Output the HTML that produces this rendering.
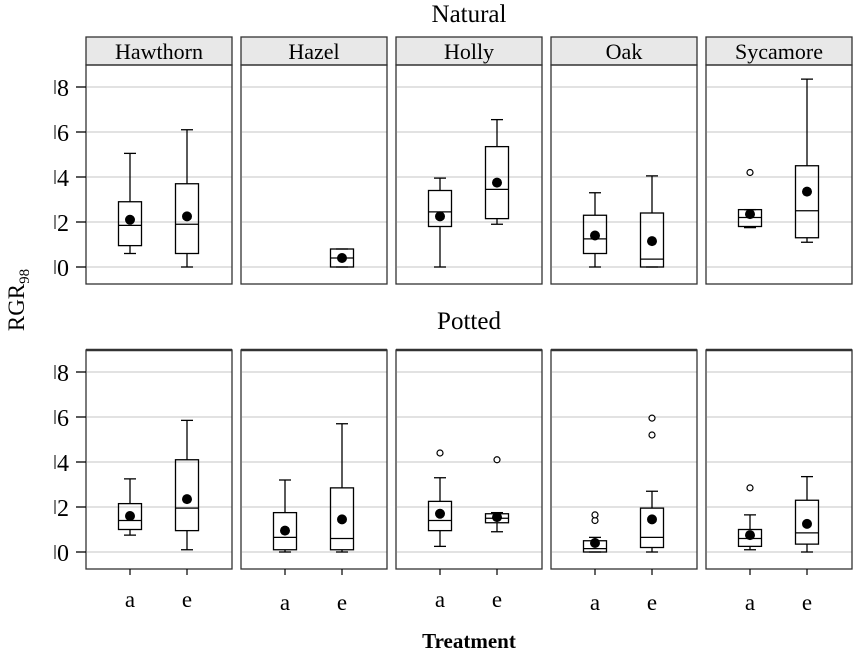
<!DOCTYPE html>
<html><head><meta charset="utf-8"><style>
html,body{margin:0;padding:0;background:#fff;}
svg{display:block;font-family:"Liberation Serif",serif;}
</style></head><body>
<svg id="s" width="855" height="651" viewBox="0 0 855 651" xmlns="http://www.w3.org/2000/svg">
<rect width="855" height="651" fill="#fff"/>
<g id="g"></g>
<text x="469" y="22" font-size="25" text-anchor="middle">Natural</text>
<text x="469" y="329" font-size="25" text-anchor="middle">Potted</text>
<text x="469" y="648" font-size="21" font-weight="bold" text-anchor="middle">Treatment</text>
<text transform="translate(24,300) rotate(-90)" font-size="23" text-anchor="middle">RGR<tspan font-size="15" dy="5">98</tspan></text>
<g font-size="22" text-anchor="middle">
<text x="159" y="59">Hawthorn</text><text x="314" y="59">Hazel</text><text x="469" y="59">Holly</text><text x="624" y="59">Oak</text><text x="779" y="59">Sycamore</text>
</g>
<g font-size="23" text-anchor="middle">
<text x="130" y="607">a</text><text x="187" y="607">e</text>
<text x="285" y="610">a</text><text x="342" y="610">e</text>
<text x="440" y="607">a</text><text x="497" y="607">e</text>
<text x="595" y="610">a</text><text x="652" y="610">e</text>
<text x="750" y="610">a</text><text x="807" y="610">e</text>
</g>
<g font-size="24" text-anchor="end">
<text x="69" y="96">8</text><text x="69" y="141">6</text><text x="69" y="186">4</text><text x="69" y="231">2</text><text x="69" y="276">0</text>
<text x="69" y="381">8</text><text x="69" y="426">6</text><text x="69" y="471">4</text><text x="69" y="516">2</text><text x="69" y="561">0</text>
</g>
</svg>
<script>
var g=document.getElementById('g'),h='';
function L(x1,y1,x2,y2,c,w){h+='<line x1="'+x1+'" y1="'+y1+'" x2="'+x2+'" y2="'+y2+'" stroke="'+c+'" stroke-width="'+w+'"/>';}
var px=[86,241,396,551,706];
function axis(base){for(var u=0;u<=8;u+=2){var y=base-22.5*u;L(76,y,86,y,'#000',1.3);L(55,y-7,55,y+7,'#000',1);}}
function panels(top,bottom,base,strip){
 px.forEach(function(x){
  for(var u=0;u<=8;u+=2){var y=base-22.5*u;L(x+1,y,x+146,y,'#d0d0d0',1.3);}
  if(strip){h+='<rect x="'+x+'" y="37" width="146" height="28" fill="#e8e8e8" stroke="#333" stroke-width="1.3"/>';}
  h+='<rect x="'+x+'" y="'+top+'" width="146" height="'+(bottom-top)+'" fill="none" stroke="#333" stroke-width="1.3"/>';
  if(!strip)L(x,top,x+146,top,'#333',2.5);
 });
}
panels(65,284,267,true);panels(350,569,552,false);
px.forEach(function(x){L(x+44,569,x+44,575,'#000',1.2);L(x+101,569,x+101,575,'#000',1.2);});
function bp(p,k,base,d){
 var cx=px[p]+(k?101:44),Y=function(u){return base-22.5*u;};
 L(cx,Y(d[0]),cx,Y(d[2]),'#000',1.3);L(cx,Y(d[3]),cx,Y(d[1]),'#000',1.3);
 L(cx-6,Y(d[0]),cx+6,Y(d[0]),'#000',1.3);L(cx-6,Y(d[1]),cx+6,Y(d[1]),'#000',1.3);
 h+='<rect x="'+(cx-11.5)+'" y="'+Y(d[3])+'" width="23" height="'+(Y(d[2])-Y(d[3]))+'" fill="none" stroke="#000" stroke-width="1.3"/>';
 L(cx-11.5,Y(d[4]),cx+11.5,Y(d[4]),'#000',1.3);
 h+='<circle cx="'+cx+'" cy="'+Y(d[5])+'" r="5" fill="#000"/>';
 (d[6]||[]).forEach(function(o){h+='<circle cx="'+cx+'" cy="'+Y(o)+'" r="3" fill="#fff" stroke="#000" stroke-width="1.2"/>';});
}
var T=267,B=552;
bp(0,0,T,[0.6,5.05,0.95,2.9,1.85,2.1]);bp(0,1,T,[0,6.1,0.6,3.7,1.9,2.25]);
bp(1,1,T,[0,0.8,0,0.8,0.4,0.4]);
bp(2,0,T,[0,3.95,1.8,3.4,2.45,2.25]);bp(2,1,T,[1.9,6.55,2.15,5.35,3.45,3.75]);
bp(3,0,T,[0,3.3,0.6,2.3,1.25,1.4]);bp(3,1,T,[0,4.05,0,2.4,0.35,1.15]);
bp(4,0,T,[1.75,2.55,1.8,2.55,2.2,2.35,[4.2]]);bp(4,1,T,[1.1,8.35,1.3,4.5,2.5,3.35]);
bp(0,0,B,[0.75,3.25,1.0,2.15,1.4,1.6]);bp(0,1,B,[0.1,5.85,0.95,4.1,1.95,2.35]);
bp(1,0,B,[0,3.2,0.1,1.75,0.65,0.95]);bp(1,1,B,[0,5.7,0.1,2.85,0.6,1.45]);
bp(2,0,B,[0.25,3.3,0.95,2.25,1.4,1.7,[4.4]]);bp(2,1,B,[0.9,1.75,1.3,1.7,1.5,1.55,[4.1]]);
bp(3,0,B,[0,0.65,0,0.5,0.15,0.4,[1.4,1.65]]);bp(3,1,B,[0,2.7,0.2,1.95,0.65,1.45,[5.2,5.95]]);
bp(4,0,B,[0.1,1.65,0.25,1.0,0.6,0.75,[2.85]]);bp(4,1,B,[0,3.35,0.35,2.3,0.85,1.25]);
axis(267);axis(552);
g.innerHTML=h;
</script>
</body></html>
